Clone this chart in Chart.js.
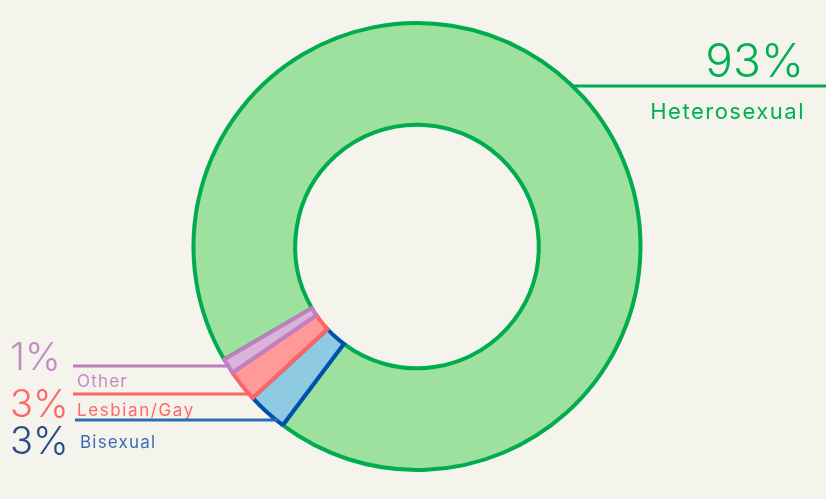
<!DOCTYPE html>
<html>
<head>
<meta charset="utf-8">
<script src="https://cdn.jsdelivr.net/npm/chart.js@4/dist/chart.umd.min.js"></script>
<style>
  html, body { margin: 0; padding: 0; background: #F4F3EC; }
  #wrap { width: 826px; height: 499px; position: relative; }
</style>
</head>
<body>
<div id="wrap"><canvas id="c" width="826" height="499"></canvas></div>
<script>
const categories = ["Heterosexual", "Bisexual", "Lesbian/Gay", "Other"];
const values = [93.7, 2.9, 2.3, 1.1];
const valueLabels = ["93%", "3%", "3%", "1%"];
const fillColors = ["#9EE09E", "#8ECAE2", "#FF9A98", "#D9B3D9"];
const borderColors = ["#00AC4F", "#0050B0", "#FF6464", "#C080C0"];

const labelPlugin = {
  id: "sideLabels",
  afterDraw(chart) {
    const arc = chart.getDatasetMeta(0).data[0];
    const cx = arc.x, cy = arc.y;
    const R = arc.outerRadius;
    const ctx = chart.ctx;
    const edgeX = (y, side) => {
      const dy = y - cy;
      const dx = Math.sqrt(Math.max(R * R - dy * dy, 0));
      return side < 0 ? cx - dx : cx + dx;
    };
    ctx.save();
    ctx.textBaseline = "alphabetic";
    // Heterosexual (right side)
    ctx.lineWidth = 3;
    ctx.strokeStyle = "#00AC4F";
    ctx.beginPath();
    ctx.moveTo(edgeX(86, 1) - 2, 86);
    ctx.lineTo(826, 86);
    ctx.stroke();
    ctx.fillStyle = "#00B050";
    ctx.textAlign = "right";
    ctx.font = "300 46px Inter";
    ctx.fillText(valueLabels[0], 804, 77);
    ctx.font = "400 22px Inter";
    ctx.letterSpacing = "1.5px";
    ctx.fillText(categories[0], 805, 119);
    ctx.letterSpacing = "0px";

    // left side labels
    const left = [
      { i: 3, y: 366, numColor: "#C48AC6", txtColor: "#C48AC6", line: "#C080C0", numY: 370, txtY: 387, x0: 73 },
      { i: 2, y: 394, numColor: "#FF6666", txtColor: "#FF6666", line: "#FF6464", numY: 417, txtY: 416, x0: 73 },
      { i: 1, y: 420, numColor: "#2B4D8C", txtColor: "#3B6DB0", line: "#2E6DB4", numY: 454, txtY: 448, x0: 75 }
    ];
    left.forEach(o => {
      ctx.lineWidth = 3;
      ctx.strokeStyle = o.line;
      ctx.beginPath();
      ctx.moveTo(o.x0, o.y);
      ctx.lineTo(edgeX(o.y, -1) + 2, o.y);
      ctx.stroke();
      ctx.textAlign = "left";
      ctx.fillStyle = o.numColor;
      ctx.font = "300 38px Inter";
      ctx.fillText(valueLabels[o.i], 10, o.numY);
      ctx.fillStyle = o.txtColor;
      ctx.font = "400 17px Inter";
      ctx.letterSpacing = o.i === 2 ? "1.6px" : "1.2px";
      ctx.fillText(categories[o.i], o.i === 1 ? 80 : 77, o.txtY);
      ctx.letterSpacing = "0px";
    });
    ctx.restore();
  }
};

new Chart(document.getElementById("c"), {
  type: "doughnut",
  data: {
    labels: categories,
    datasets: [{
      data: values,
      backgroundColor: fillColors,
      borderColor: borderColors,
      borderWidth: 4,
      borderJoinStyle: "miter",
      hoverOffset: 0
    }]
  },
  options: {
    responsive: false,
    animation: false,
    rotation: 239.6,
    cutout: "54.5%",
    layout: { padding: { top: 21, bottom: 27, left: 100, right: 92 } },
    plugins: { legend: { display: false }, tooltip: { enabled: false } }
  },
  plugins: [labelPlugin]
});
</script>
</body>
</html>
